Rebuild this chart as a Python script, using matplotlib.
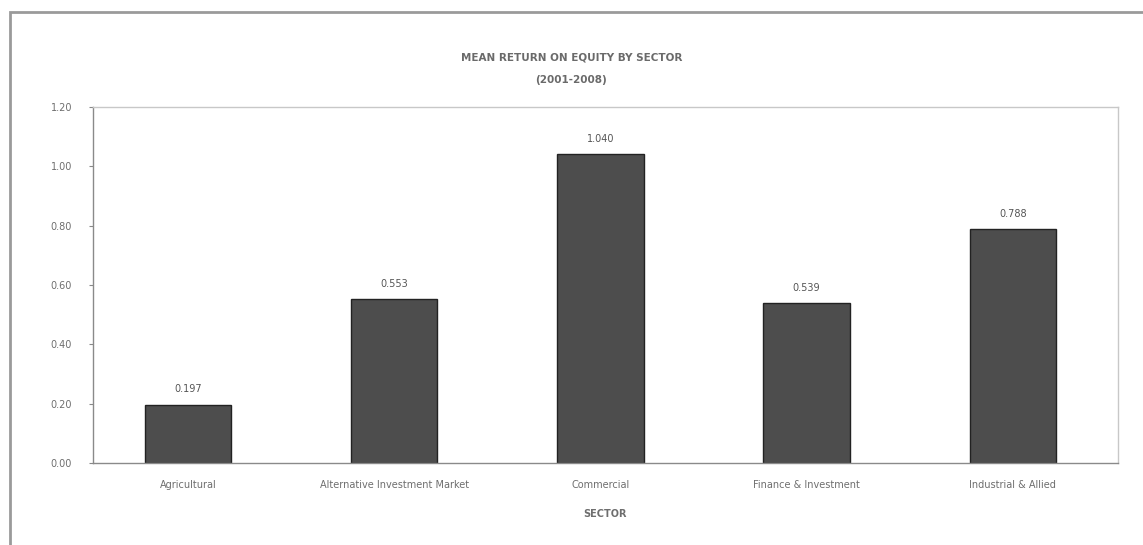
import matplotlib
matplotlib.use("Agg")
import matplotlib.pyplot as plt
from matplotlib.patches import Rectangle

sectors = ["Agricultural", "Alternative Investment Market", "Commercial",
           "Finance & Investment", "Industrial & Allied"]
mean_roe = [0.197, 0.553, 1.040, 0.539, 0.788]
value_labels = ["0.197", "0.553", "1.040", "0.539", "0.788"]
y_ticks = [0.00, 0.20, 0.40, 0.60, 0.80, 1.00, 1.20]

text_col = "#6e6e6e"
fig = plt.figure(figsize=(11.43, 5.45), dpi=100)
fig.patch.set_facecolor("white")

# outer chart frame
fig.patches.append(Rectangle((10 / 1143, -0.01), 1.02, (545 - 12) / 545 + 0.01,
                             transform=fig.transFigure, fill=False,
                             edgecolor="#9a9a9a", linewidth=2.0))

ax = fig.add_axes([93 / 1143, 1 - 463 / 545, (1118 - 93) / 1143, (463 - 107) / 545])
x = range(len(sectors))
ax.bar(x, mean_roe, width=0.42, color="#4d4d4d", edgecolor="#222222", linewidth=1.0)
for xi, v, lab in zip(x, mean_roe, value_labels):
    ax.text(xi, v + 0.035, lab, ha="center", va="bottom", fontsize=7, color="#555555")

ax.set_xlim(-0.46, 4.51)
ax.set_ylim(0, 1.2)
ax.set_yticks(y_ticks)
ax.set_yticklabels([f"{t:.2f}" for t in y_ticks], fontsize=7, color=text_col)
ax.set_xticks(list(x))
ax.set_xticklabels(sectors, fontsize=7, color=text_col)
ax.tick_params(axis="y", length=3, color="#888888", pad=12)
ax.tick_params(axis="x", length=0, pad=12)
for side in ["left", "bottom"]:
    ax.spines[side].set_color("#8a8a8a")
    ax.spines[side].set_linewidth(1.0)
for side in ["top", "right"]:
    ax.spines[side].set_color("#c8c8c8")
    ax.spines[side].set_linewidth(1.0)

ax.set_xlabel("SECTOR", fontsize=7, fontweight="bold", color=text_col, labelpad=14)

fig.text(0.5, 1 - 57 / 545, "MEAN RETURN ON EQUITY BY SECTOR", ha="center", va="center",
         fontsize=7.5, fontweight="bold", color="#6a6a6a")
fig.text(0.5, 1 - 80 / 545, "(2001-2008)", ha="center", va="center",
         fontsize=7.5, fontweight="bold", color="#6a6a6a")

fig.savefig("out.png", dpi=100, facecolor="white")
